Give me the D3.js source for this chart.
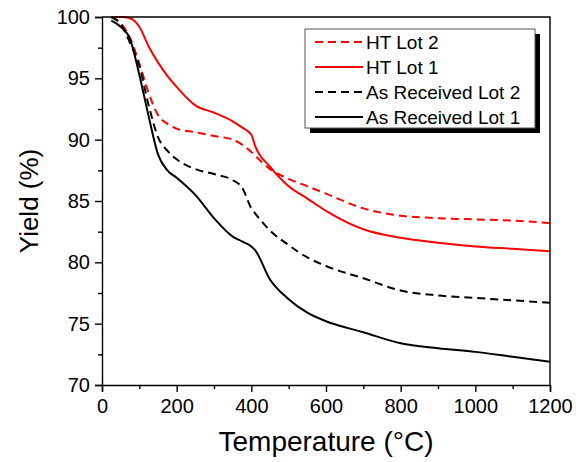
<!DOCTYPE html>
<html>
<head>
<meta charset="utf-8">
<script src="https://cdn.jsdelivr.net/npm/d3@7"></script>
<style>
  body { margin: 0; background: #fff; }
  svg { font-family: "Liberation Sans", Arial, sans-serif; }
</style>
</head>
<body>
<svg id="chart" width="576" height="462"></svg>
<script>
// temperature grid (°C) shared by all series
const temps = [25, 50, 75, 100, 125, 150, 175, 200, 250, 300, 350, 375, 400, 410, 450, 500, 550, 600, 700, 800, 900, 1000, 1100, 1200];

// yield (%)
const htLot2 = [100, 99.5, 98.3, 96.2, 93.8, 92.0, 91.3, 90.9, 90.6, 90.3, 90.0, 89.6, 89.0, 88.7, 87.6, 86.8, 86.2, 85.6, 84.4, 83.8, 83.6, 83.5, 83.4, 83.2];
const htLot1 = [100, 100, 99.9, 99.2, 97.6, 96.3, 95.2, 94.3, 92.8, 92.2, 91.5, 91.0, 90.4, 89.5, 87.8, 86.2, 85.2, 84.2, 82.7, 82.0, 81.6, 81.3, 81.1, 80.9];
const arLot2 = [100, 99.4, 97.9, 96.0, 92.8, 90.2, 89.1, 88.4, 87.6, 87.2, 86.7, 86.1, 84.4, 84.0, 82.6, 81.4, 80.4, 79.7, 78.7, 77.7, 77.3, 77.1, 76.9, 76.7];
const arLot1 = [99.7, 99.2, 98.2, 95.3, 91.9, 88.8, 87.5, 86.9, 85.5, 83.6, 82.1, 81.7, 81.3, 81.0, 78.6, 77.0, 75.9, 75.2, 74.3, 73.4, 73.0, 72.7, 72.3, 71.9];

const seriesNames = ["HT Lot 2", "HT Lot 1", "As Received Lot 2", "As Received Lot 1"];
const xTicks = [0, 200, 400, 600, 800, 1000, 1200];
const yTicks = [70, 75, 80, 85, 90, 95, 100];

const series = [
  { name: seriesNames[0], values: htLot2, color: "#ff0000", dash: "8,5" },
  { name: seriesNames[1], values: htLot1, color: "#ff0000", dash: null },
  { name: seriesNames[2], values: arLot2, color: "#000000", dash: "8,5" },
  { name: seriesNames[3], values: arLot1, color: "#000000", dash: null }
];

const svg = d3.select("#chart");
const margin = { top: 17, right: 26, bottom: 77, left: 102 };
const W = 576, H = 462;
const iw = W - margin.left - margin.right;
const ih = H - margin.top - margin.bottom;

const x = d3.scaleLinear().domain([0, 1200]).range([0, iw]);
const y = d3.scaleLinear().domain([70, 100]).range([ih, 0]);

const g = svg.append("g").attr("transform", `translate(${margin.left},${margin.top})`);

// curves
const line = d3.line()
  .x((d, i) => x(temps[i]))
  .y(d => y(d))
  .curve(d3.curveMonotoneX);

series.forEach(s => {
  g.append("path")
    .attr("d", line(s.values))
    .attr("fill", "none")
    .attr("stroke", s.color)
    .attr("stroke-width", 2)
    .attr("stroke-dasharray", s.dash);
});

// frame (top and right)
g.append("path")
  .attr("d", `M0,0H${iw}V${ih}`)
  .attr("fill", "none")
  .attr("stroke", "#000")
  .attr("stroke-width", 1.4);

// x axis: major + minor ticks
const xAxis = g.append("g").attr("transform", `translate(0,${ih})`)
  .call(d3.axisBottom(x).tickValues(xTicks).tickSize(7).tickPadding(7).tickFormat(d3.format("d")));
g.append("g").attr("transform", `translate(0,${ih})`)
  .call(d3.axisBottom(x).tickValues(d3.range(100, 1200, 200)).tickSize(4).tickFormat(""))
  .select(".domain").remove();

const yAxis = g.append("g")
  .call(d3.axisLeft(y).tickValues(yTicks).tickSize(7).tickPadding(5));
g.append("g")
  .call(d3.axisLeft(y).tickValues(d3.range(72.5, 100, 5)).tickSize(4).tickFormat(""))
  .select(".domain").remove();

g.selectAll(".tick line").attr("stroke-width", 1.4);
g.selectAll(".domain").attr("stroke-width", 1.4);
xAxis.selectAll("text").attr("font-size", 20).attr("fill", "#000");
yAxis.selectAll("text").attr("font-size", 20).attr("fill", "#000");

// axis titles
svg.append("text")
  .attr("x", margin.left + iw / 2)
  .attr("y", 451)
  .attr("text-anchor", "middle")
  .attr("font-size", 28)
  .text("Temperature (°C)");

svg.append("text")
  .attr("transform", `translate(38,${margin.top + ih / 2}) rotate(-90)`)
  .attr("text-anchor", "middle")
  .attr("font-size", 26)
  .text("Yield (%)");

// legend with drop shadow
const lx = 305, ly = 29, lw = 230, lh = 99;
svg.append("rect").attr("x", lx + 5).attr("y", ly + 5).attr("width", lw).attr("height", lh).attr("fill", "#000");
svg.append("rect").attr("x", lx).attr("y", ly).attr("width", lw).attr("height", lh)
  .attr("fill", "#fff").attr("stroke", "#555").attr("stroke-width", 1);

series.forEach((s, i) => {
  const yy = ly + 13 + i * 25;
  svg.append("line")
    .attr("x1", lx + 10).attr("x2", lx + 58)
    .attr("y1", yy).attr("y2", yy)
    .attr("stroke", s.color).attr("stroke-width", 2)
    .attr("stroke-dasharray", s.dash);
  svg.append("text")
    .attr("x", lx + 61).attr("y", yy + 7)
    .attr("font-size", 19)
    .text(s.name);
});
</script>
</body>
</html>
